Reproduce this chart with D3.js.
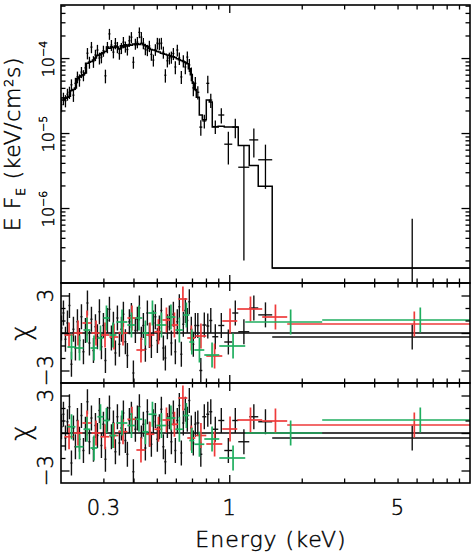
<!DOCTYPE html>
<html>
<head>
<meta charset="utf-8">
<script src="https://cdn.jsdelivr.net/npm/d3@7"></script>
<style>
  body { margin: 0; background: #fff; }
  text { font-family: "DejaVu Sans", sans-serif; font-weight: 200; fill: #000; stroke: #000; stroke-width: 0.45px; }
</style>
</head>
<body>
<div id="chart"></div>
<script>
// black spectrum: bin edges (keV), unfolded flux, error and model (units of 1e-5 keV/cm^2/s)
const blackEdges = [0.1990,0.2028,0.2067,0.2107,0.2148,0.2189,0.2231,0.2274,0.2318,0.2363,
  0.2409,0.2455,0.2503,0.2551,0.2600,0.2650,0.2702,0.2754,0.2807,0.2861,
  0.2916,0.2972,0.3030,0.3088,0.3148,0.3209,0.3270,0.3333,0.3398,0.3463,
  0.3530,0.3598,0.3667,0.3738,0.3810,0.3884,0.3959,0.4035,0.4113,0.4192,
  0.4273,0.4355,0.4439,0.4525,0.4613,0.4702,0.4792,0.4885,0.4979,0.5075,
  0.5173,0.5273,0.5375,0.5479,0.5585,0.5693,0.5803,0.5915,0.6026,0.6143,
  0.6262,0.6383,0.6506,0.6632,0.6760,0.6890,0.7023,0.7159,0.7297,
  0.7508,0.7727,0.8027,0.8259,0.8500,0.9001,0.9534,1.0291,1.0898,1.2107,1.3193,1.508,10.0];
const blackFlux = [2.4,2.9,2.7,3.3,3.5,4.4,3.2,4.6,5.6,5.1,6.5,5.9,7.4,11.6,8.8,14.0,9.0,11.0,12.8,10.0,
  10.3,12.5,5.8,14.0,21.0,14.9,12.0,15.8,14.0,11.5,13.6,16.3,14.2,13.0,17.0,19.0,8.8,15.5,16.3,22.0,
  19.0,15.8,13.2,12.8,14.5,11.2,9.4,13.0,15.8,15.5,15.8,12.0,5.9,9.2,10.0,10.3,11.5,7.6,12.8,10.0,
  5.6,9.2,7.6,10.3,8.1,6.2,4.0,4.6,
  3.5,1.2,1.45,4.6,2.75,1.22,1.74,0.71,1.2,0.35,0.81,0.44,0.0158];
const blackFluxErr = [0.5,0.55,0.5,0.6,0.65,0.8,0.6,0.85,1.0,0.95,1.1,1.0,1.3,2.0,1.6,2.4,1.6,1.9,2.2,1.8,
  1.8,2.1,1.2,2.4,3.5,2.5,2.1,2.7,2.4,2.0,2.3,2.8,2.4,2.2,2.9,3.2,1.6,2.6,2.8,3.6,
  3.2,2.7,2.3,2.2,2.5,2.0,1.7,2.3,2.8,2.8,2.8,2.2,1.2,1.7,1.8,1.9,2.1,1.5,2.3,1.9,
  1.1,1.7,1.5,1.9,1.6,1.3,0.9,1.0,
  0.7,0.28,0.3,1.2,0.6,0.25,0.4,0.33,0.35,0.33,0.34,0.26,0.056];
const blackModel = [2.75,2.75,2.9,3.0,3.1,3.7,3.8,4.0,5.3,5.6,5.8,6.0,6.3,8.5,8.8,9.0,9.4,10.0,10.8,11.0,
  11.4,11.8,12.2,14.0,13.5,14.2,13.8,14.5,14.0,13.2,14.6,14.0,15.0,14.5,15.2,14.8,15.4,15.0,15.5,15.2,
  15.6,15.0,14.6,14.2,13.5,13.0,12.8,12.6,12.2,12.0,11.6,11.4,11.2,11.0,10.8,10.6,10.4,10.2,9.8,9.5,
  9.3,9.0,8.7,8.4,7.2,6.0,4.6,3.8,
  3.0,1.74,1.5,2.75,2.6,1.2,1.23,1.2,1.2,0.68,0.37,0.195,0.0158];

// residuals (chi) for the two fits, same black bins
const blackChiA = [0.4,1.6,-0.5,0.8,2.2,-2.5,0.3,-1.2,0.9,-0.6,1.3,-1.5,0.2,2.4,-0.8,1.1,-1.4,0.5,-0.3,1.7,
  -1.1,0.6,-2.2,1.0,1.9,-0.4,0.7,-1.6,1.2,-0.9,0.3,1.5,-0.7,-1.8,0.9,1.4,-3.2,0.2,1.1,2.0,
  -0.5,0.6,-1.3,1.6,-0.2,-1.0,0.8,1.3,-0.6,0.4,1.8,-1.2,-2.0,0.5,1.2,-0.8,1.5,-1.5,0.9,2.1,
  -1.7,0.7,1.8,1.0,2.5,0.3,-0.9,0.6,
  0.6,-3.0,0.64,0.56,1.0,-0.3,0.6,-0.72,1.6,0.1,2.0,1.45,-0.32];
const blackChiB = [0.5,1.5,-0.4,0.9,2.1,-2.4,0.4,-1.1,1.0,-0.5,1.4,-1.4,0.3,2.5,-0.7,1.2,-1.3,0.6,-0.2,1.8,
  -1.0,0.7,-2.1,1.1,2.0,-0.3,0.8,-1.5,1.3,-0.8,0.4,1.6,-0.6,-1.7,1.0,1.5,-3.1,0.3,1.2,2.1,
  -0.4,0.7,-1.2,1.7,-0.1,-0.9,0.9,1.4,-0.5,0.5,1.9,-1.1,-2.3,0.6,1.3,-0.7,1.6,-1.4,1.0,2.2,
  -1.6,0.8,1.9,1.1,2.6,0.4,-0.8,0.7,
  0.8,-1.7,1.3,1.5,1.7,0.3,1.0,-1.4,1.0,-0.7,1.3,0.9,-0.4];

// red spectrum
const redEdges = [0.2067,0.2253,0.2455,0.2676,0.2916,0.3178,0.3463,0.3774,0.4113,0.4482,0.4885,
  0.5273,0.5693,0.6143,0.6694,0.7225,0.8027,0.9354,1.0794,1.3705,1.7405,10.0];
const redChiA = [-0.16,0.0,0.8,0.0,-0.16,-0.32,0.0,1.2,-1.36,-0.16,0.1,1.04,0.64,2.72,-0.4,-0.24,-1.84,0.96,1.92,1.28,0.72];
const redChiB = [-0.3,0.0,0.8,0.0,-0.3,-0.2,0.1,1.1,-1.36,-0.1,0.3,1.04,0.7,2.8,-0.4,-0.2,-0.88,0.32,1.04,0.96,0.64];

// green spectrum
const greenEdges = [0.2127,0.2296,0.2479,0.2650,0.2834,0.3001,0.3178,0.3398,0.3774,0.4074,0.4355,0.4613,
  0.4979,0.5479,0.5969,0.6443,0.6823,0.7159,0.7876,0.9089,1.1651,2.4322,10.0];
const greenChiA = [-1.12,-1.2,0.24,-1.2,-0.4,1.2,-0.16,0.88,0.64,1.2,0.0,1.6,0.64,1.28,0.24,1.44,-0.72,-1.36,-1.76,-1.04,0.88,1.04];
const greenChiB = [0.5,-1.1,0.3,-1.2,1.3,1.0,-0.2,0.8,0.6,1.1,0.1,1.5,0.6,1.2,0.3,1.4,-0.6,-0.9,-0.48,-2.0,0.0,1.04];

const energyLabels = [0.3, 1, 5];
const fluxLabels = [1e-4, 1e-5, 1e-6];
const chiLabels = [3, -3];

const W = 471, H = 556;
const L = 61, R = 470;
const panels = [
  {top: 5, bottom: 283},
  {top: 283, bottom: 383},
  {top: 383, bottom: 483}
];

const svg = d3.select("#chart").append("svg").attr("width", W).attr("height", H);

const x = d3.scaleLog().domain([0.2, 10]).range([L, R]);
const yFlux = d3.scaleLog().domain([1e-7, 5.1e-4]).range([panels[0].bottom, panels[0].top]);
const yChiA = d3.scaleLinear().domain([-4, 4]).range([panels[1].bottom, panels[1].top]);
const yChiB = d3.scaleLinear().domain([-4, 4]).range([panels[2].bottom, panels[2].top]);

const defs = svg.append("defs");
panels.forEach((p, i) => {
  defs.append("clipPath").attr("id", "clip" + i)
    .append("rect").attr("x", L).attr("y", p.top).attr("width", R - L).attr("height", p.bottom - p.top);
});

function makeBins(edges, vals) {
  return vals.map((v, i) => ({lo: edges[i], hi: edges[i + 1], mid: (edges[i] + edges[i + 1]) / 2, v: v}));
}

// ---- top panel: unfolded spectrum ----
const blackBins = blackFlux.map((f, i) => ({
  lo: blackEdges[i], hi: blackEdges[i + 1], mid: (blackEdges[i] + blackEdges[i + 1]) / 2,
  f: f * 1e-5, e: blackFluxErr[i] * 1e-5, m: blackModel[i] * 1e-5
}));

const gTop = svg.append("g").attr("clip-path", "url(#clip0)");
const stepPts = blackBins.map(b => [b.lo, b.m]);
stepPts.push([blackBins[blackBins.length - 1].hi, blackBins[blackBins.length - 1].m]);
gTop.append("path")
  .attr("d", d3.line().x(d => x(d[0])).y(d => yFlux(d[1])).curve(d3.curveStepAfter)(stepPts))
  .attr("fill", "none").attr("stroke", "#000").attr("stroke-width", 1.5);

gTop.selectAll("line.ev").data(blackBins).join("line").attr("class", "ev")
  .attr("x1", d => x(d.mid)).attr("x2", d => x(d.mid))
  .attr("y1", d => yFlux(d.f + d.e))
  .attr("y2", d => d.f - d.e > 0 ? yFlux(d.f - d.e) : panels[0].bottom + 5)
  .attr("stroke", "#000").attr("stroke-width", 1.3);
gTop.selectAll("line.eh").data(blackBins).join("line").attr("class", "eh")
  .attr("x1", d => x(d.lo)).attr("x2", d => x(d.hi))
  .attr("y1", d => yFlux(d.f)).attr("y2", d => yFlux(d.f))
  .attr("stroke", "#000").attr("stroke-width", 1.3);

// ---- residual panels ----
function drawChi(idx, y, series) {
  const g = svg.append("g").attr("clip-path", "url(#clip" + idx + ")");
  g.append("line").attr("x1", L).attr("x2", R).attr("y1", y(0)).attr("y2", y(0))
    .attr("stroke", "#000").attr("stroke-width", 1.5);
  series.forEach(s => {
    const bins = makeBins(s.edges, s.vals);
    const gs = g.append("g").attr("stroke", s.color).attr("stroke-width", s.width);
    gs.selectAll("line.v").data(bins).join("line").attr("class", "v")
      .attr("x1", d => x(d.mid)).attr("x2", d => x(d.mid))
      .attr("y1", d => y(d.v + 1)).attr("y2", d => y(d.v - 1));
    gs.selectAll("line.h").data(bins).join("line").attr("class", "h")
      .attr("x1", d => x(d.lo)).attr("x2", d => x(d.hi))
      .attr("y1", d => y(d.v)).attr("y2", d => y(d.v));
  });
}
drawChi(1, yChiA, [
  {edges: blackEdges, vals: blackChiA, color: "#111", width: 1.4},
  {edges: redEdges, vals: redChiA, color: "#ee3a3a", width: 1.7},
  {edges: greenEdges, vals: greenChiA, color: "#1fae5f", width: 1.7}
]);
drawChi(2, yChiB, [
  {edges: blackEdges, vals: blackChiB, color: "#111", width: 1.4},
  {edges: redEdges, vals: redChiB, color: "#ee3a3a", width: 1.7},
  {edges: greenEdges, vals: greenChiB, color: "#1fae5f", width: 1.7}
]);

// ---- frames and ticks ----
const isDecade = v => Math.abs(Math.log10(v) - Math.round(Math.log10(v))) < 1e-9;
const xMajor = x.ticks().filter(v => isDecade(v) && v > 0.2 && v < 10);
const xMinor = x.ticks().filter(v => !isDecade(v) && v > 0.2 && v < 10);
const fMajor = yFlux.ticks().filter(v => isDecade(v) && v > 1e-7);
const fMinor = yFlux.ticks().filter(v => !isDecade(v));
const cMajor = [-3, 0, 3];
const cMinor = [-2, -1, 1, 2];

function ticksOn(axisFn, scale, values, size, tx, ty) {
  svg.append("g").attr("transform", `translate(${tx},${ty})`)
    .call(axisFn(scale).tickValues(values).tickSizeInner(-size).tickSizeOuter(0).tickFormat(() => ""))
    .call(g => g.select(".domain").remove())
    .call(g => g.selectAll(".tick line").attr("stroke", "#000").attr("stroke-width", 1.3));
}

panels.forEach((p, i) => {
  ticksOn(d3.axisTop, x, xMinor, 4.5, 0, p.top);
  ticksOn(d3.axisTop, x, xMajor, 8, 0, p.top);
  ticksOn(d3.axisBottom, x, xMinor, 4.5, 0, p.bottom);
  ticksOn(d3.axisBottom, x, xMajor, 8, 0, p.bottom);
  const ys = i === 0 ? yFlux : (i === 1 ? yChiA : yChiB);
  const maj = i === 0 ? fMajor : cMajor;
  const min = i === 0 ? fMinor : cMinor;
  ticksOn(d3.axisLeft, ys, min, 4.5, L, 0);
  ticksOn(d3.axisLeft, ys, maj, 8.5, L, 0);
  ticksOn(d3.axisRight, ys, min, 4.5, R, 0);
  ticksOn(d3.axisRight, ys, maj, 8.5, R, 0);
  svg.append("rect").attr("x", L).attr("y", p.top).attr("width", R - L).attr("height", p.bottom - p.top)
    .attr("fill", "none").attr("stroke", "#000").attr("stroke-width", 1.6);
});

// ---- labels ----
function vText(tx, ty, size) {
  return svg.append("text").attr("transform", `translate(${tx},${ty}) rotate(-90)`)
    .attr("text-anchor", "middle").style("font-size", size + "px");
}

fluxLabels.forEach(v => {
  const t = vText(54, yFlux(v) + 1, 16);
  t.append("tspan").text("10");
  t.append("tspan").attr("font-size", "11px").attr("dy", "-7").text("\u2212" + Math.round(-Math.log10(v)));
});

[yChiA, yChiB].forEach(ys => {
  chiLabels.forEach(v => {
    vText(53, ys(v), 21).text(v < 0 ? "\u2212" + (-v) : String(v));
  });
  vText(30, ys(0), 26).text("\u03c7");
});

const yl = vText(20, 144, 22).style("letter-spacing", "0.6px");
yl.append("tspan").text("E F");
yl.append("tspan").attr("font-size", "13px").attr("dy", "5").text("E");
yl.append("tspan").attr("dy", "-5").text(" (keV/cm");
yl.append("tspan").attr("font-size", "13px").attr("dy", "-7").text("2");
yl.append("tspan").attr("dy", "7").text("s)");

svg.append("g").selectAll("text").data(energyLabels).join("text")
  .attr("x", d => x(d)).attr("y", 515).attr("text-anchor", "middle")
  .style("font-size", "21px").text(d => String(d));

svg.append("text").attr("x", 271).attr("y", 547).attr("text-anchor", "middle")
  .style("font-size", "22px").style("letter-spacing", "1px").text("Energy (keV)");
</script>
</body>
</html>
